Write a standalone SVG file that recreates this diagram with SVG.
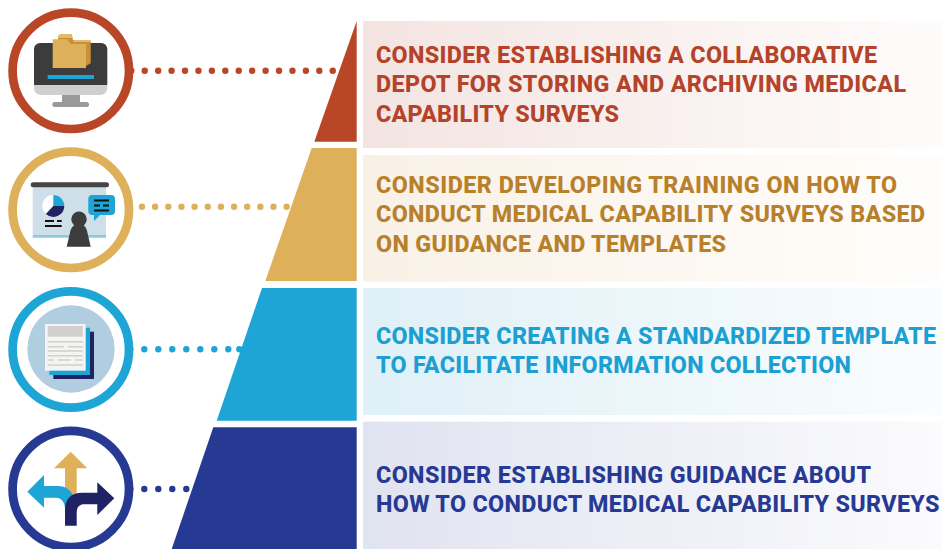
<svg xmlns="http://www.w3.org/2000/svg" width="942" height="549" viewBox="0 0 942 549">
<style>
.t{font-family:"Roboto","Liberation Sans",sans-serif;font-weight:800;font-size:23.300px}
.ring{fill:#fff;stroke-width:8.700}
.dot{fill:none;stroke-width:6.400;stroke-linecap:round}
</style>
<defs>
<linearGradient id="g1"><stop offset="0" stop-color="#f3e4e1"/><stop offset="1" stop-color="#fefcfb"/></linearGradient>
<linearGradient id="g2"><stop offset="0" stop-color="#f9f1e6"/><stop offset="1" stop-color="#fffdfb"/></linearGradient>
<linearGradient id="g3"><stop offset="0" stop-color="#dff0f7"/><stop offset="1" stop-color="#fafdfe"/></linearGradient>
<linearGradient id="g4"><stop offset="0" stop-color="#e0e3f0"/><stop offset="1" stop-color="#fbfbfd"/></linearGradient>
</defs>
<g id="connectors">
<path class="dot" stroke="#b94727" stroke-dasharray="0 13.430" d="M131.300 70.700H333"/>
<path class="dot" stroke="#dfb05a" stroke-dasharray="0 13.150" d="M142 206.700H287"/>
<path class="dot" stroke="#1ca5d5" stroke-dasharray="0 14" d="M130.300 349.300H229M239.300 349.300H240"/>
<path class="dot" stroke="#263a94" stroke-dasharray="0 14" d="M130.300 489H187"/>
</g>
<g id="node1">
<path fill="#b94727" d="M356.700 21V141.700H314.300Z"/>
<rect x="363" y="21" width="579" height="127" fill="url(#g1)"/>
<circle class="ring" stroke="#b94727" cx="70.800" cy="70.800" r="58.200"/>
<path fill="#3c3c3c" d="M34 49a6 6 0 0 1 6-6h61.300a6 6 0 0 1 6 6v36H34Z"/>
<path fill="#cfcfcd" d="M34 85h73.300v3a7 7 0 0 1-7 7H41a7 7 0 0 1-7-7Z"/>
<rect x="62" y="95" width="18" height="8" fill="#9a9a9a"/>
<rect x="52.300" y="102" width="36.700" height="5" rx="2.500" fill="#9a9a9a"/>
<path fill="#e3b96c" d="M58 36l2-2h12l1 6h17.700v3H58Z"/>
<path fill="#c98f3b" d="M58 38h14l2 4h16.700v21.300L86 66H58Z"/>
<path fill="#dfb05a" d="M52.700 39.300H67.500l3 4.700H86V68H52.700Z"/>
<rect x="47.700" y="75" width="46.300" height="4" fill="#1ca5d5"/>
<text class="t" x="376" y="63.200" textLength="501" fill="#b5432a">CONSIDER ESTABLISHING A COLLABORATIVE</text>
<text class="t" x="376" y="92.300" textLength="530" fill="#b5432a">DEPOT FOR STORING AND ARCHIVING MEDICAL</text>
<text class="t" x="376" y="121.500" textLength="243" fill="#b5432a">CAPABILITY SURVEYS</text>
</g>
<g id="node2">
<path fill="#dfb05a" d="M311.700 148H356.700V281H265.300Z"/>
<rect x="363" y="155" width="579" height="126.500" fill="url(#g2)"/>
<circle class="ring" stroke="#dfb05a" cx="70.800" cy="209.800" r="58.200"/>
<rect x="32.700" y="186" width="73.300" height="49" fill="#cfdfea"/>
<rect x="32.700" y="235" width="73.300" height="2.700" fill="#8cc9e5"/>
<rect x="30.700" y="182.300" width="78.300" height="5" rx="2.500" fill="#444"/>
<circle cx="53.300" cy="206" r="11" fill="#fff"/>
<path fill="#1ca5d5" d="M53.300 195a11 11 0 0 1 11 11H53.300Z"/>
<path fill="#1f2363" d="M64.300 206a11 11 0 0 1-18.500 8L53.300 206Z"/>
<path fill="#111" d="M45 220h9v2H45ZM57 220h4.700v2H57ZM45 225h16.700v2H45Z"/>
<path fill="#1ca5d5" d="M92 195h19a4 4 0 0 1 4 4v12a4 4 0 0 1-4 4h-11l-6 6v-6h-2a4 4 0 0 1-3.700-4v-12a4 4 0 0 1 3.700-4Z"/>
<path fill="#111" d="M94 199.500h15v2H94ZM94 204.500h6v2H94ZM103 204.500h6v2H103ZM94 209.500h15v2H94Z"/>
<circle cx="79" cy="219.300" r="7.700" fill="#3c3c3c"/>
<path fill="#3c3c3c" d="M79 224c6 0 8 5 8.500 9l3.200 13.700H66.700l3.200-13.700c.6-4 3-9 9.100-9Z"/>
<text class="t" x="376" y="192.800" textLength="521" fill="#b8802b">CONSIDER DEVELOPING TRAINING ON HOW TO</text>
<text class="t" x="376" y="222" textLength="549" fill="#b8802b">CONDUCT MEDICAL CAPABILITY SURVEYS BASED</text>
<text class="t" x="376" y="251.500" textLength="350" fill="#b8802b">ON GUIDANCE AND TEMPLATES</text>
</g>
<g id="node3">
<path fill="#1ca5d5" d="M262 288H356.700V420.700H216.700Z"/>
<rect x="363" y="288" width="579" height="127" fill="url(#g3)"/>
<circle class="ring" stroke="#1ca5d5" cx="70.800" cy="349.500" r="58.200"/>
<circle cx="71" cy="349" r="43.700" fill="#b1cde0"/>
<rect x="53.300" y="331.700" width="40.700" height="47.300" fill="#1f2363"/>
<rect x="49.300" y="327.700" width="40.700" height="47.300" fill="#1ca5d5"/>
<rect x="45" y="324" width="40.700" height="46.700" fill="#f4f4f2"/>
<rect x="47.700" y="326" width="35" height="10.700" fill="#cfcfcd"/>
<path stroke="#cfcfcd" stroke-width="1.500" d="M47.700 341.700h35M47.700 346.700h16M68 346.700h14.700M47.700 351h35M47.700 355.700h35M47.700 360h6M58 360h13M75 360h7.700M47.700 365h35"/>
<text class="t" x="376" y="344" textLength="560" fill="#1c9fd2">CONSIDER CREATING A STANDARDIZED TEMPLATE</text>
<text class="t" x="376" y="373.300" textLength="475" fill="#1c9fd2">TO FACILITATE INFORMATION COLLECTION</text>
</g>
<g id="node4">
<path fill="#263a94" d="M213.300 427.300H356.700V549H171.700Z"/>
<rect x="363" y="421.700" width="579" height="127.300" fill="url(#g4)"/>
<circle class="ring" stroke="#263a94" cx="70.800" cy="489" r="58.200"/>
<path fill="#dfb05a" d="M54 468.300L70.700 451.700L87.300 468.300H76.700V500H65V468.300Z"/>
<path fill="#1ca5d5" d="M27.300 491.700L44 475V486H58C66 486 71 490 73.500 497L65 509C65 502 61 497.700 56 497.700H44V507.700Z"/>
<path fill="#1f2363" d="M65 525.700V510C65 498 72 492.700 82 492.700H97.300V482.300L114.300 498.300L97.300 515V504.300H84C79 504.300 76.700 508 76.700 512V525.700Z"/>
<text class="t" x="376" y="483.300" textLength="495" fill="#263a94">CONSIDER ESTABLISHING GUIDANCE ABOUT</text>
<text class="t" x="376" y="512.300" textLength="563.500" fill="#263a94">HOW TO CONDUCT MEDICAL CAPABILITY SURVEYS</text>
</g>
</svg>
